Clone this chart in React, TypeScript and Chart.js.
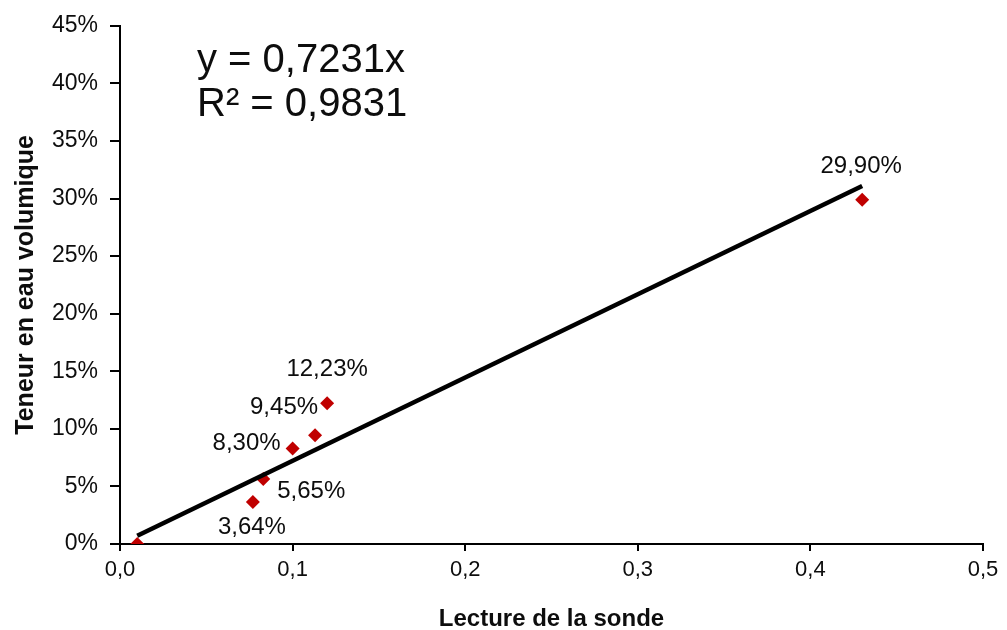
import React, { useEffect, useRef } from "react";
import { Chart, registerables } from "chart.js";

Chart.register(...registerables);

// Data
const probeReading = [0.01, 0.077, 0.083, 0.1, 0.113, 0.12, 0.43];
const waterContent = [0.0, 0.0364, 0.0565, 0.083, 0.0945, 0.1223, 0.299];
const pointLabels = ["", "3,64%", "5,65%", "8,30%", "9,45%", "12,23%", "29,90%"];
const trendSlope = 0.7231;
const trendR2 = 0.9831;
const trendRange = [0.01, 0.43];
const xTicks = [0, 0.1, 0.2, 0.3, 0.4, 0.5];
const yTicks = [0, 0.05, 0.1, 0.15, 0.2, 0.25, 0.3, 0.35, 0.4, 0.45];

// Label placement offsets (px) relative to each point
const labelOffsets: ([number, number] | null)[] = [
  null,
  [-1, 25],
  [48, 12],
  [-46, -5],
  [-31, -28],
  [0, -34],
  [-1, -33],
];

const FONT = "'Liberation Sans', Arial, sans-serif";
const TEXT = "#0d0d0d";

const fmtComma = (v: number, d: number) => v.toFixed(d).replace(".", ",");

const overlayPlugin = {
  id: "overlay",
  afterDatasetsDraw(chart: any) {
    const { ctx, chartArea } = chart;
    const meta = chart.getDatasetMeta(1);
    ctx.save();
    ctx.fillStyle = TEXT;
    ctx.font = `24px ${FONT}`;
    ctx.textAlign = "center";
    ctx.textBaseline = "middle";
    meta.data.forEach((pt: any, i: number) => {
      const off = labelOffsets[i];
      if (!off || !pointLabels[i]) return;
      ctx.fillText(pointLabels[i], pt.x + off[0], pt.y + off[1]);
    });
    ctx.font = `40px ${FONT}`;
    ctx.textAlign = "left";
    const ex = chartArea.left + 77;
    const ey = chartArea.top + 35;
    ctx.fillText(`y = ${fmtComma(trendSlope, 4)}x`, ex, ey);
    ctx.fillText(`R² = ${fmtComma(trendR2, 4)}`, ex, ey + 44);
    ctx.restore();
  },
};

export default function App() {
  const ref = useRef<HTMLCanvasElement>(null);

  useEffect(() => {
    document.body.style.margin = "0";
    const canvas = ref.current;
    if (!canvas) return;
    const chart = new Chart(canvas, {
      type: "scatter",
      data: {
        datasets: [
          {
            type: "line",
            data: trendRange.map((x) => ({ x, y: trendSlope * x })),
            borderColor: "#000000",
            borderWidth: 4.5,
            pointRadius: 0,
            fill: false,
          },
          {
            data: probeReading.map((x, i) => ({ x, y: waterContent[i] })),
            pointStyle: "rectRot",
            pointRadius: 7,
            backgroundColor: "#C00000",
            borderColor: "#C00000",
            borderWidth: 0,
          },
        ],
      } as any,
      options: {
        animation: false,
        responsive: true,
        maintainAspectRatio: false,
        layout: { padding: { top: 25, right: 24, left: 0, bottom: 0 } },
        plugins: { legend: { display: false }, tooltip: { enabled: false } },
        scales: {
          x: {
            type: "linear",
            min: 0,
            max: 0.5,
            afterFit: (s: any) => {
              s.height = 86;
            },
            afterBuildTicks: (s: any) => {
              s.ticks = xTicks.map((v) => ({ value: v }));
            },
            ticks: {
              color: TEXT,
              font: { family: FONT, size: 22 },
              padding: 6,
              callback: (v: any) => fmtComma(Number(v), 1),
            },
            grid: {
              display: true,
              drawOnChartArea: false,
              drawTicks: true,
              tickLength: 7,
              color: "#000000",
              lineWidth: 2,
            },
            border: { display: true, color: "#000000", width: 2 },
            title: {
              display: true,
              text: "Lecture de la sonde",
              color: TEXT,
              font: { family: FONT, size: 24, weight: "bold", lineHeight: 0.9 },
              padding: { top: 0, bottom: 0 },
            },
          },
          y: {
            type: "linear",
            min: 0,
            max: 0.45,
            afterFit: (s: any) => {
              s.width = 120;
            },
            afterBuildTicks: (s: any) => {
              s.ticks = yTicks.map((v) => ({ value: v }));
            },
            ticks: {
              color: TEXT,
              font: { family: FONT, size: 23 },
              padding: 12,
              callback: (v: any) => `${Math.round(Number(v) * 100)}%`,
            },
            grid: {
              display: true,
              drawOnChartArea: false,
              drawTicks: true,
              tickLength: 10,
              color: "#000000",
              lineWidth: 2,
            },
            border: { display: true, color: "#000000", width: 2 },
            title: {
              display: true,
              text: "Teneur en eau volumique",
              color: TEXT,
              font: { family: FONT, size: 25, weight: "bold", lineHeight: 1.2 },
              padding: { top: 11, bottom: 0 },
            },
          },
        },
      } as any,
      plugins: [overlayPlugin],
    });
    return () => chart.destroy();
  }, []);

  return (
    <div style={{ position: "fixed", left: 0, top: 0, width: 1007, height: 630 }}>
      <canvas ref={ref} />
    </div>
  );
}
